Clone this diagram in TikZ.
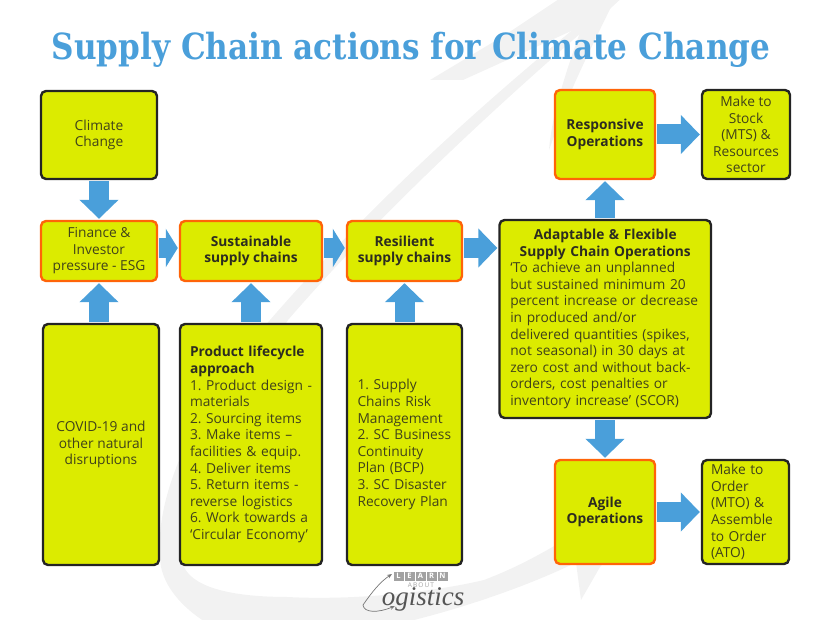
\documentclass[tikz,border=0pt]{standalone}
\usepackage{fontspec}
\setmainfont{Open Sans}[BoldFont={Open Sans Bold}]
\newfontfamily\titlefont{DejaVu Serif}[BoldFont={DejaVu Serif Bold}]
\newfontfamily\logofont{Liberation Serif}
\usetikzlibrary{arrows.meta}
\definecolor{boxfill}{HTML}{DCEB00}
\definecolor{boxline}{HTML}{242424}
\definecolor{hotline}{HTML}{FF6408}
\definecolor{flowblue}{HTML}{4A9FDA}
\definecolor{boxtext}{HTML}{40421A}
\definecolor{boldtext}{HTML}{2C2C20}
\definecolor{wmark}{HTML}{F2F2F2}
\definecolor{logogray}{HTML}{A2A2A2}
\definecolor{logodark}{HTML}{555555}
\tikzset{
	plainbox/.style={draw=boxline, fill=boxfill, line width=2.4pt, rounded corners=5pt, inner sep=0pt, align=center, text=boxtext, font=\fontsize{13.75}{16.6}\selectfont},
	hotbox/.style={plainbox, draw=hotline},
	keybox/.style={hotbox, font=\fontsize{13.75}{16.6}\selectfont\bfseries, text=boldtext},
	flow/.style={draw=flowblue, line width=20pt, shorten <=1pt, shorten >=1pt, -{Triangle[length=19pt, width=38pt]}},
	shortflow/.style={flow, -{Triangle[length=12pt, width=38pt]}},
	learnbox/.style={fill=logogray, text=white, minimum width=10pt, minimum height=9pt, inner sep=0pt, font=\fontsize{7.5}{8}\selectfont\bfseries}
}
\begin{document}
\frenchspacing
\begin{tikzpicture}[x=1pt, y=-1pt]
\useasboundingbox (0,0) rectangle (827,620);
\begin{scope}
\clip (0,0) rectangle (827,620);
\fill[wmark] (592,14) .. controls (480,105) and (370,205) .. (270,320) .. controls (205,395) and (150,490) .. (161,567) .. controls (166,590) and (185,610) .. (210,625) -- (393,625) .. controls (460,610) and (530,585) .. (575,563) -- (650,510) -- (556,545) .. controls (530,560) and (510,570) .. (484,580) .. controls (420,595) and (340,600) .. (288,597) .. controls (240,597) and (195,590) .. (184,567) .. controls (175,500) and (230,410) .. (288,320) .. controls (370,225) and (480,120) .. (596,20) -- cycle;
\fill[wmark] (430,80) -- (463,80) -- (600,18) -- (625,-5) -- (565,-5) -- (505,35) -- cycle;
\fill[wmark] (588,10) .. controls (570,60) and (552,110) .. (549,150) -- (558,125) .. controls (570,90) and (590,50) .. (612,5) -- cycle;
\fill[wmark] (581,600) -- (600,567) -- (640,520) -- (575,555) -- cycle;
\end{scope}
\node[text=flowblue, xscale=0.864, transform shape, font=\titlefont\fontsize{36}{40}\selectfont\bfseries] (title) at (411,50) {Supply Chain actions for Climate Change};

\node[plainbox, minimum width=116pt, minimum height=88pt] (climate) at (99,135) {Climate\\Change};
\node[hotbox, minimum width=116pt, minimum height=60pt] (finance) at (99,251) {Finance \&\\Investor\\pressure - ESG};
\node[plainbox, minimum width=116pt, minimum height=241pt] (covid) at (101,444.5) {COVID-19 and\\other natural\\disruptions};
\node[keybox, minimum width=142pt, minimum height=60pt] (sustainable) at (251,251) {Sustainable\\supply chains};
\node[plainbox, minimum width=142pt, minimum height=241pt, text width=122pt, align=left] (lifecycle) at (251,444.5) {\textbf{\textcolor{boldtext}{Product lifecycle\\approach}}\\\mbox{1. Product design -}\\materials\\2. Sourcing items\\3. Make items –\\facilities \& equip.\\4. Deliver items\\5. Return items -\\reverse logistics\\\mbox{6. Work towards a}\\\mbox{‘Circular Economy’}};
\node[keybox, minimum width=115pt, minimum height=60pt] (resilient) at (404.5,251) {Resilient\\supply chains};
\node[plainbox, minimum width=115pt, minimum height=241pt, text width=94pt, align=left] (plans) at (404.5,444.5) {1. Supply\\Chains Risk\\Management\\\mbox{2. SC Business}\\Continuity\\Plan (BCP)\\3. SC Disaster\\\mbox{Recovery Plan}};
\node[plainbox, minimum width=211.5pt, minimum height=198pt, text width=190pt, align=left] (adaptable) at (605.25,319) {{\centering\bfseries\textcolor{boldtext}{Adaptable \& Flexible\\Supply Chain Operations}\par}‘To achieve an unplanned\\but sustained minimum 20\\percent increase or decrease\\in produced and/or\\delivered quantities (spikes,\\not seasonal) in 30 days at\\zero cost and without back-\\orders, cost penalties or\\inventory increase’ (SCOR)};
\node[keybox, minimum width=100pt, minimum height=89pt] (responsive) at (605,134.5) {Responsive\\Operations};
\node[plainbox, minimum width=88pt, minimum height=89pt] (stock) at (746,134.5) {Make to\\Stock\\(MTS) \&\\Resources\\sector};
\node[keybox, minimum width=100pt, minimum height=104pt] (agile) at (605,512) {Agile\\Operations};
\node[plainbox, minimum width=87pt, minimum height=104pt, text width=69pt, align=left] (order) at (745.5,512) {Make to\\Order\\(MTO) \&\\Assemble\\to Order\\(ATO)};

\draw[flow] (climate.south) -- (finance.north);
\draw[flow] (finance.south |- covid.north) -- (finance.south);
\draw[flow] (lifecycle.north) -- (sustainable.south);
\draw[flow] (plans.north) -- (resilient.south);
\draw[shortflow] ([yshift=3pt]finance.east) -- ([yshift=3pt]sustainable.west);
\draw[shortflow] ([yshift=3pt]sustainable.east) -- ([yshift=3pt]resilient.west);
\draw[flow] ([yshift=3pt]resilient.east) -- ([yshift=3pt]resilient.east -| adaptable.west);
\draw[flow] (adaptable.north -| responsive.south) -- (responsive.south);
\draw[flow] (adaptable.south -| agile.north) -- (agile.north);
\draw[flow] (responsive.east) -- (stock.west);
\draw[flow] (agile.east) -- (order.west);

\foreach \ch [count=\i] in {L,E,A,R,N}
{
	\node[learnbox] (learn\i) at (387.5+11*\i,576) {\ch};
}
\node[text=logogray, font=\fontsize{6.5}{7}\selectfont, inner sep=0pt] (about) at (421,585) {A\,B\,O\,U\,T};
\node[text=logodark, font=\logofont\itshape\fontsize{27}{30}\selectfont, inner sep=0pt] (logistics) at (423,599) {ogistics};
\coordinate (curlstart) at (363,605);
\draw[logodark!80, line width=0.7pt, -{Stealth[length=5pt, width=4pt]}] (curlstart) .. controls (372,592) and (380,582) .. (392,574);
\draw[logodark!80, line width=0.7pt, -{Stealth[length=5pt, width=4pt]}] (curlstart) .. controls (364,613) and (378,613) .. (395,606);
\end{tikzpicture}
\end{document}
